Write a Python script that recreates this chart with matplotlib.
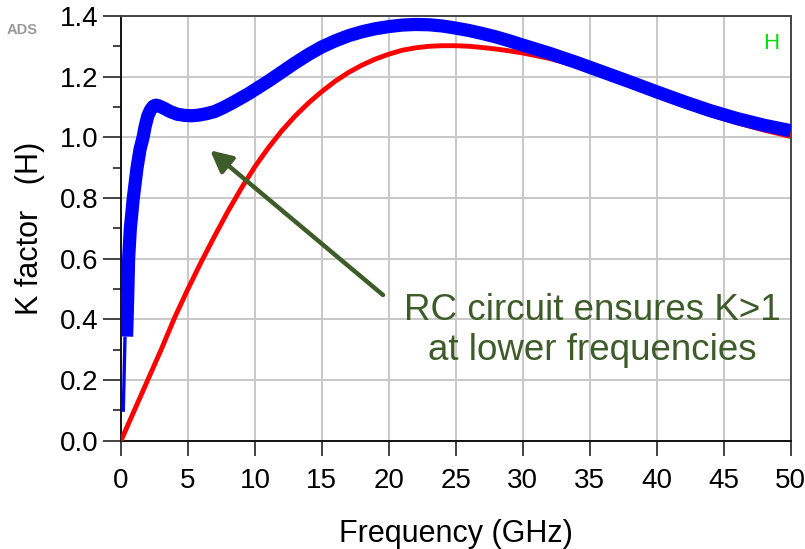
#!/usr/bin/env python3
"""K-factor vs frequency with and without the RC stabilising network."""

import matplotlib

matplotlib.use("Agg")
import matplotlib.pyplot as plt
from matplotlib.ticker import MultipleLocator

plt.rcParams["font.family"] = ["Liberation Sans", "DejaVu Sans"]

# K factor with the RC network (thick blue); the first two points are the
# thin low-frequency stub drawn by the simulator
freq_rc_stub = [0.17, 0.30]
k_rc_stub = [0.095, 0.343]
freq_rc = [0.42, 0.5, 0.57, 0.7, 0.92, 1.2, 1.42, 1.65, 1.8, 2.0, 2.2, 2.4,
           2.6, 2.8, 3.2, 3.67, 4.2, 4.8, 5.3, 5.8, 6.4, 7.0, 7.6, 8.3, 8.9,
           9.5, 10, 11, 12, 13, 14, 15, 16, 17, 18, 19, 20, 21, 22, 23, 24,
           25, 26, 27, 28, 29, 30, 32, 34, 36, 38, 40, 42, 44, 46, 48, 50]
k_rc = [0.343, 0.47, 0.6, 0.7, 0.8, 0.9, 0.96, 1.0, 1.035, 1.07, 1.09, 1.102,
        1.106, 1.104, 1.096, 1.085, 1.076, 1.072, 1.071, 1.073, 1.078, 1.085,
        1.097, 1.113, 1.128, 1.143, 1.157, 1.185, 1.215, 1.245, 1.273, 1.298,
        1.318, 1.335, 1.348, 1.358, 1.365, 1.37, 1.372, 1.371, 1.367, 1.36,
        1.352, 1.342, 1.331, 1.318, 1.304, 1.277, 1.247, 1.215, 1.183, 1.15,
        1.118, 1.088, 1.062, 1.04, 1.022]

# K factor of the bare device (red)
freq_bare = [0, 1, 2, 3, 4, 5, 6, 7, 8, 9, 10, 11, 12, 13, 14, 15, 16, 17, 18,
             19, 20, 21, 22, 23, 24, 25, 26, 27, 28, 29, 30, 32, 34, 36, 38,
             40, 42, 44, 46, 48, 50]
k_bare = [0, 0.1, 0.2, 0.3, 0.405, 0.5, 0.59, 0.675, 0.757, 0.833, 0.903,
          0.965, 1.021, 1.07, 1.113, 1.151, 1.185, 1.214, 1.238, 1.258, 1.274,
          1.287, 1.295, 1.3, 1.302, 1.302, 1.3, 1.296, 1.291, 1.285, 1.278,
          1.26, 1.236, 1.207, 1.173, 1.137, 1.105, 1.075, 1.048, 1.024, 1.003]

x_ticks = list(range(0, 55, 5))
y_ticks = [0.0, 0.2, 0.4, 0.6, 0.8, 1.0, 1.2, 1.4]

note = "RC circuit ensures K>1\nat lower frequencies"
note_color = "#3d5c29"

fig = plt.figure(figsize=(8.05, 5.49), dpi=100)
ax = fig.add_axes([0.1503, 0.1974, 0.8317, 0.7735])

ax.plot(freq_bare, k_bare, color="#ff0000", lw=3.5, solid_capstyle="butt",
        solid_joinstyle="round", zorder=3)
ax.plot(freq_rc_stub, k_rc_stub, color="#0000ff", lw=2.4, solid_capstyle="butt", zorder=4)
ax.plot(freq_rc, k_rc, color="#0000ff", lw=9.5, solid_capstyle="butt",
        solid_joinstyle="round", zorder=4)

ax.set_xlim(0, 50)
ax.set_ylim(0, 1.4)
ax.set_xticks(x_ticks)
ax.set_yticks(y_ticks)
ax.set_yticklabels([f"{v:.1f}" for v in y_ticks])
ax.yaxis.set_minor_locator(MultipleLocator(0.1))
ax.tick_params(axis="both", which="major", direction="out", labelsize=20,
               width=1.2, color="#222222")
ax.tick_params(axis="x", which="major", length=11, pad=9)
ax.tick_params(axis="y", which="major", length=13, pad=3)
ax.tick_params(axis="y", which="minor", direction="out", length=6, width=1.2,
               color="#222222")
ax.grid(True, which="major", color="#c8c8c8", lw=1.4, zorder=0)
ax.set_axisbelow(True)

for side in ("left", "bottom"):
    ax.spines[side].set_color("#111111")
    ax.spines[side].set_linewidth(1.4)
for side in ("top", "right"):
    ax.spines[side].set_color("#444444")
    ax.spines[side].set_linewidth(1.4)

ax.set_xlabel("Frequency (GHz)", fontsize=22, labelpad=18)
ax.set_ylabel("K factor   (H)", fontsize=22, labelpad=11)

ax.annotate("", xy=(6.66, 0.957), xytext=(19.57, 0.480),
            arrowprops=dict(arrowstyle="-|>,head_length=1.3,head_width=0.65",
                            color=note_color, lw=3.2, shrinkA=0, shrinkB=0),
            zorder=5)
ax.text(35.2, 0.363, note, color=note_color, fontsize=26.5, ha="center",
        va="center", linespacing=1.22, zorder=5)

ax.text(0.983, 0.935, "H", transform=ax.transAxes, color="#00e000",
        fontsize=16, ha="right", va="center")
fig.text(0.027, 0.945, "ADS", color="#9a9a9a", fontsize=10.5, fontweight="bold",
         ha="center", va="center")

fig.savefig("out.png", dpi=100)
